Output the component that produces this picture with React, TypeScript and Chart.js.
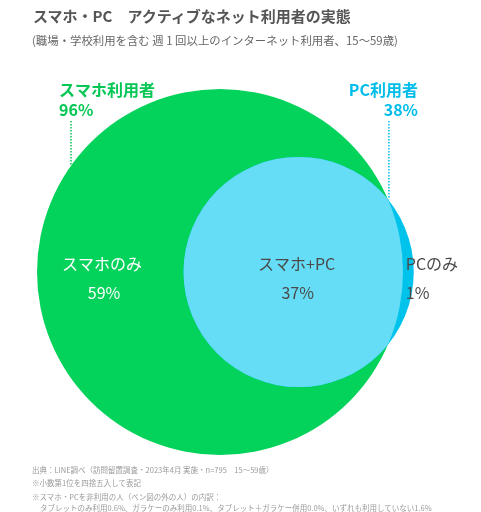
import React, { useRef, useEffect } from 'react';
import { Chart, registerables } from 'chart.js';

Chart.register(...registerables);

// Venn data (percent of active internet users)
const setNames = ['スマホ利用者', 'PC利用者'];
const setTotals = [96, 38];
const regionNames = ['スマホのみ', 'スマホ+PC', 'PCのみ'];
const regionValues = [59, 37, 1];

const GREEN = '#03D25B';
const GREEN_TEXT = '#06C755';
const CYAN = '#00C3EC';
const CYAN_LIGHT = '#66DDF6';
const CYAN_TEXT = '#00BDEA';
const FONT = '"Noto Sans CJK JP", "Noto Sans", sans-serif';

const W = 481;
const H = 512;
const PX = 33.1; // pixels per unit (circle area in units = percent)
const ORIGIN_X = 220;
const ORIGIN_Y = 272;

// radius so that circle area equals the percentage
const radii = setTotals.map(v => Math.sqrt(v / Math.PI));

const lensArea = (d: number, r1: number, r2: number) => {
  const a1 = Math.acos((d * d + r1 * r1 - r2 * r2) / (2 * d * r1));
  const a2 = Math.acos((d * d + r2 * r2 - r1 * r1) / (2 * d * r2));
  const k = Math.sqrt((-d + r1 + r2) * (d + r1 - r2) * (d - r1 + r2) * (d + r1 + r2));
  return r1 * r1 * a1 + r2 * r2 * a2 - 0.5 * k;
};

// solve the distance between centres from the overlap value
const solveDistance = () => {
  const [r1, r2] = radii;
  let lo = Math.abs(r1 - r2) + 1e-6;
  let hi = r1 + r2 - 1e-6;
  for (let i = 0; i < 60; i++) {
    const mid = (lo + hi) / 2;
    if (lensArea(mid, r1, r2) > regionValues[1]) lo = mid;
    else hi = mid;
  }
  return (lo + hi) / 2;
};
const centreDist = solveDistance();

const vennPlugin = {
  id: 'vennLabels',
  afterDatasetsDraw(chart: any) {
    const ctx = chart.ctx as CanvasRenderingContext2D;
    const g = chart.getDatasetMeta(0).data[0];
    const p = chart.getDatasetMeta(1).data[0];
    if (!g || !p) return;
    const R = g.options.radius;
    const r = p.options.radius;

    // intersection
    ctx.save();
    ctx.beginPath();
    ctx.arc(g.x, g.y, R, 0, Math.PI * 2);
    ctx.clip();
    ctx.beginPath();
    ctx.arc(p.x, p.y, r, 0, Math.PI * 2);
    ctx.fillStyle = CYAN_LIGHT;
    ctx.fill();
    ctx.restore();

    // leader lines
    const d = p.x - g.x;
    const a = (d * d + R * R - r * r) / (2 * d);
    const ix = g.x + a;
    const iy = g.y - Math.sqrt(R * R - a * a);
    const gx = 71;
    const gy = g.y - Math.sqrt(R * R - (gx - g.x) * (gx - g.x));

    ctx.save();
    ctx.lineWidth = 1.5;
    ctx.setLineDash([1.5, 1.5]);
    ctx.strokeStyle = GREEN_TEXT;
    ctx.beginPath();
    ctx.moveTo(gx, 121);
    ctx.lineTo(gx, gy);
    ctx.stroke();
    ctx.strokeStyle = CYAN_TEXT;
    ctx.beginPath();
    ctx.moveTo(ix + 1, 121);
    ctx.lineTo(ix + 1, iy);
    ctx.stroke();
    ctx.restore();

    ctx.save();
    ctx.textBaseline = 'middle';

    // set labels
    ctx.font = `bold 16px ${FONT}`;
    ctx.fillStyle = GREEN_TEXT;
    ctx.textAlign = 'left';
    ctx.fillText(setNames[0], 59, 90);
    ctx.fillText(`${setTotals[0]}%`, 59, 110);
    ctx.fillStyle = CYAN_TEXT;
    ctx.textAlign = 'right';
    ctx.fillText(setNames[1], 418, 90);
    ctx.fillText(`${setTotals[1]}%`, 418, 110);

    // region labels
    ctx.font = `16px ${FONT}`;
    ctx.textAlign = 'center';
    ctx.fillStyle = '#ffffff';
    ctx.fillText(regionNames[0], g.x - R + 65, g.y - 8);
    ctx.fillText(`${regionValues[0]}%`, g.x - R + 67, g.y + 21);
    ctx.fillStyle = '#4a4a4a';
    ctx.fillText(regionNames[1], p.x - 2, g.y - 8);
    ctx.fillText(`${regionValues[1]}%`, p.x - 1, g.y + 21);
    ctx.textAlign = 'left';
    ctx.fillText(regionNames[2], p.x + r - 8, g.y - 8);
    ctx.fillText(`${regionValues[2]}%`, p.x + r - 8, g.y + 21);
    ctx.restore();
  },
};

const footStyle: React.CSSProperties = {
  position: 'absolute',
  left: 32,
  fontSize: 7.5,
  lineHeight: '10px',
  color: '#9a9a9a',
  whiteSpace: 'nowrap',
  fontFamily: FONT,
};

const App: React.FC = () => {
  const chartRef = useRef<HTMLCanvasElement>(null);
  const chartInstance = useRef<Chart | null>(null);

  useEffect(() => {
    if (!chartRef.current) return;
    if (chartInstance.current) chartInstance.current.destroy();

    // bubble radius is given in pixels: one data unit = PX pixels on both axes
    chartInstance.current = new Chart(chartRef.current, {
      type: 'bubble',
      data: {
        datasets: [
          {
            label: setNames[0],
            data: [{ x: 0, y: 0, r: radii[0] * PX }],
            backgroundColor: GREEN,
            borderWidth: 0,
            hoverRadius: 0,
            order: 2,
          },
          {
            label: setNames[1],
            data: [{ x: centreDist, y: 0, r: radii[1] * PX }],
            backgroundColor: CYAN,
            borderWidth: 0,
            hoverRadius: 0,
            order: 1,
          },
        ],
      },
      options: {
        responsive: true,
        maintainAspectRatio: false,
        animation: false,
        events: [],
        layout: { padding: 0, autoPadding: false },
        scales: {
          x: { display: false, min: -ORIGIN_X / PX, max: (W - ORIGIN_X) / PX },
          y: { display: false, min: -(H - ORIGIN_Y) / PX, max: ORIGIN_Y / PX },
        },
        plugins: {
          legend: { display: false },
          tooltip: { enabled: false },
        },
      },
      plugins: [vennPlugin],
    });

    return () => {
      if (chartInstance.current) {
        chartInstance.current.destroy();
        chartInstance.current = null;
      }
    };
  }, []);

  return (
    <div style={{ position: 'absolute', left: 0, top: 0, width: W, height: H, background: '#fff', overflow: 'hidden' }}>
      <div style={{ position: 'absolute', left: 0, top: 0, width: W, height: H }}>
        <canvas ref={chartRef} />
      </div>
      <div style={{ position: 'absolute', left: 33, top: 6, fontFamily: FONT, fontWeight: 'bold', fontSize: 15, lineHeight: '20px', color: '#555', whiteSpace: 'nowrap' }}>
        スマホ・PC　アクティブなネット利用者の実態
      </div>
      <div style={{ position: 'absolute', left: 32, top: 32, fontFamily: FONT, fontSize: 11.4, lineHeight: '16px', color: '#666', whiteSpace: 'nowrap' }}>
        (職場・学校利用を含む 週 1 回以上のインターネット利用者、15～59歳)
      </div>
      <div style={{ ...footStyle, top: 465 }}>出典：LINE調べ（訪問留置調査・2023年4月 実施・n=795　15～59歳）</div>
      <div style={{ ...footStyle, top: 478 }}>※小数第1位を四捨五入して表記</div>
      <div style={{ ...footStyle, top: 492 }}>※スマホ・PCを非利用の人（ベン図の外の人）の内訳：</div>
      <div style={{ ...footStyle, top: 503, left: 40 }}>
        タブレットのみ利用0.6%、ガラケーのみ利用0.1%、タブレット＋ガラケー併用0.0%、いずれも利用していない1.6%
      </div>
    </div>
  );
};

export default App;
